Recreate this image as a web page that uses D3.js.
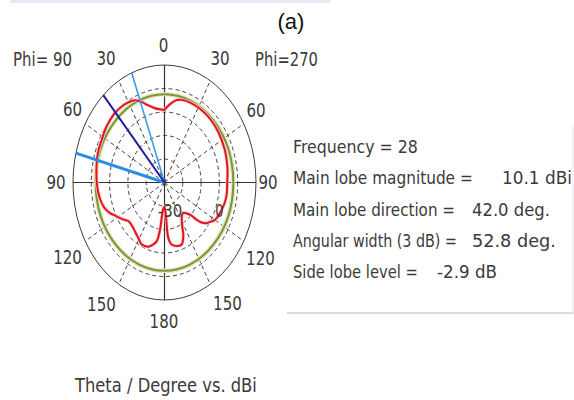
<!DOCTYPE html>
<html><head><meta charset="utf-8">
<script src="https://cdn.jsdelivr.net/npm/d3@7"></script>
<style>html,body{margin:0;padding:0;background:#fff;} svg{display:block}</style>
</head><body>
<svg id="chart" width="574" height="400"></svg>
<script>
// ---------------- data ----------------
const angleTicks = [0, 30, 60, 90, 120, 150, 180];
const gridLevelsDb = [-20, -10, 0, 10];
const radialDomainDb = [-30, 20];
const radialTickLabels = [-30, 0];
const halfPowerDb = 7.6;            // green ring (3 dB below main lobe)
const mainLobeDir = 42.0;           // dark blue line (Phi = 90 side)
const beamEdges = [21, 75.5];       // light blue lines (Phi = 90 side)

// Phi = 90 half (left)
const phi90Theta = [0, 5, 10, 16, 20, 25, 30, 35, 42, 48, 55, 62, 69, 75, 84, 90, 96, 102, 108, 113.6, 118, 122, 126, 129.6, 134, 138.6, 143, 148.8, 154.8, 162, 166, 170.3, 173, 174.5, 177, 180];
const phi90Gain  = [0.9, 1.3, 2.2, 4.4, 6.5, 8.6, 9.4, 9.9, 10.1, 9.9, 9.5, 8.8, 8.6, 8.2, 7.4, 7.0, 6.5, 5.8, 4.6, 2.5, 0.2, -1.4, -3.0, -4.3, -4.5, -4.2, -3.5, -2.4, -0.8, -1.3, -2.6, -4.6, -9.6, -16, -19, -19.5];
// Phi = 270 half (right)
const phi270Theta = [0, 5, 10, 15, 22, 32, 43, 54, 67, 79, 90, 101, 111, 120, 124, 127, 130, 132, 134, 137, 141.7, 146, 150, 153, 155.2, 160.4, 166, 171.5, 174, 175.5, 176.5, 178, 180];
const phi270Gain  = [0.9, 3.4, 5.5, 6.4, 6.8, 6.9, 6.8, 6.4, 5.8, 5.0, 4.3, 4.3, 3.3, 1.8, 0.0, -1.2, -3.5, -6.3, -10, -12, -13.5, -13, -11.1, -8.5, -5.5, -2.0, -2.1, -3.3, -5.0, -7.5, -14, -18, -19.5];

const infoNames  = ["Frequency = 28", "Main lobe magnitude =", "Main lobe direction =", "Angular width (3 dB) =", "Side lobe level ="];
const infoValues = ["", "10.1 dBi", "42.0 deg.", "52.8 deg.", "-2.9 dB"];
const titleText = "(a)";
const axisTitle = "Theta / Degree vs. dBi";
const phiLabels = ["Phi= 90", "Phi=270"];

// ---------------- layout ----------------
const svg = d3.select("#chart");
const cx = 164.5, cy = 182.5, rx = 91.5, ry = 117.5;
const FONT = "DejaVu Sans, Verdana, sans-serif";
const TXT = "#3a3a3a";

const rScale = d3.scaleLinear().domain(radialDomainDb).range([0, 1]);
const xS = d3.scaleLinear().domain([-1, 1]).range([cx - rx, cx + rx]);
const yS = d3.scaleLinear().domain([-1, 1]).range([cy + ry, cy - ry]);
const rad = d => d * Math.PI / 180;
const pt = (side, th, rn) => [xS(side * rn * Math.sin(rad(th))), yS(rn * Math.cos(rad(th)))];

// text placed at (x, baseline y) and squeezed horizontally to a target width
function fitText(parent, str, x, y, width, size, anchor) {
  const t = parent.append("text").attr("font-family", FONT).attr("font-size", size)
    .attr("fill", TXT).attr("text-anchor", anchor || "start").text(str);
  const w = t.node().getComputedTextLength();
  const k = w > 0 ? width / w : 1;
  t.attr("transform", `translate(${x},${y}) scale(${k},1)`);
  return t;
}

// top band
svg.append("rect").attr("x", 10).attr("y", 0).attr("width", 320).attr("height", 3).attr("fill", "#e6e9f4");

// title
svg.append("text").attr("x", 291).attr("y", 29).attr("text-anchor", "middle")
  .attr("font-family", "Liberation Sans, Arial, sans-serif").attr("font-size", 22).attr("fill", "#111").text(titleText);

// info panel edges
svg.append("line").attr("x1", 287).attr("x2", 574).attr("y1", 313).attr("y2", 313).attr("stroke", "#d6dbe4").attr("stroke-width", 2);
svg.append("line").attr("x1", 573).attr("x2", 573).attr("y1", 125).attr("y2", 313).attr("stroke", "#eceff5").attr("stroke-width", 1.5);

const g = svg.append("g");

// outer ellipse
g.append("ellipse").attr("cx", xS(0)).attr("cy", yS(0))
  .attr("rx", xS(1) - xS(0)).attr("ry", yS(0) - yS(1))
  .attr("fill", "none").attr("stroke", "#3c3c3c").attr("stroke-width", 1);

// dashed rings
g.selectAll("ellipse.grid").data(gridLevelsDb).join("ellipse").attr("class", "grid")
  .attr("cx", xS(0)).attr("cy", yS(0))
  .attr("rx", d => xS(rScale(d)) - xS(0)).attr("ry", d => yS(0) - yS(rScale(d)))
  .attr("fill", "none").attr("stroke", "#444").attr("stroke-width", 1).attr("stroke-dasharray", "4,3");

// dashed spokes
const spokes = [];
[30, 60, 120, 150].forEach(a => { spokes.push({ s: -1, a }); spokes.push({ s: 1, a }); });
g.selectAll("line.spoke").data(spokes).join("line").attr("class", "spoke")
  .attr("x1", xS(0)).attr("y1", yS(0))
  .attr("x2", d => pt(d.s, d.a, 1)[0]).attr("y2", d => pt(d.s, d.a, 1)[1])
  .attr("stroke", "#444").attr("stroke-width", 1).attr("stroke-dasharray", "4,3");

// axes
g.append("line").attr("x1", xS(0)).attr("x2", xS(0)).attr("y1", yS(1)).attr("y2", yS(-1)).attr("stroke", "#333").attr("stroke-width", 1.2);
g.append("line").attr("x1", xS(-1)).attr("x2", xS(1)).attr("y1", yS(0)).attr("y2", yS(0)).attr("stroke", "#333").attr("stroke-width", 1.2);

// green half-power ring
const hp = rScale(halfPowerDb);
g.append("ellipse").attr("cx", xS(0)).attr("cy", yS(0))
  .attr("rx", xS(hp) - xS(0)).attr("ry", yS(0) - yS(hp))
  .attr("fill", "none").attr("stroke", "#dfe8b4").attr("stroke-width", 4.5);
g.append("ellipse").attr("cx", xS(0)).attr("cy", yS(0))
  .attr("rx", xS(hp) - xS(0)).attr("ry", yS(0) - yS(hp))
  .attr("fill", "none").attr("stroke", "#7a9440").attr("stroke-width", 2);

// red pattern
const pts = [];
phi90Theta.forEach((t, i) => pts.push(pt(-1, t, rScale(phi90Gain[i]))));
for (let i = phi270Theta.length - 1; i >= 0; i--) pts.push(pt(1, phi270Theta[i], rScale(phi270Gain[i])));
const redPath = d3.line().curve(d3.curveCatmullRomClosed.alpha(0.5))(pts);
g.append("path").attr("d", redPath).attr("fill", "none").attr("stroke", "#fbd0d0").attr("stroke-width", 3.5);
g.append("path").attr("d", redPath).attr("fill", "none").attr("stroke", "#e3141c").attr("stroke-width", 2);

// direction lines
g.append("line").attr("x1", xS(0)).attr("y1", yS(0))
  .attr("x2", pt(-1, beamEdges[0], 1)[0]).attr("y2", pt(-1, beamEdges[0], 1)[1])
  .attr("stroke", "#3d9be6").attr("stroke-width", 1.6);
g.append("line").attr("x1", xS(0)).attr("y1", yS(0))
  .attr("x2", pt(-1, beamEdges[1], 1)[0]).attr("y2", pt(-1, beamEdges[1], 1)[1])
  .attr("stroke", "#2a8ee6").attr("stroke-width", 3);
g.append("line").attr("x1", xS(0)).attr("y1", yS(0))
  .attr("x2", pt(-1, mainLobeDir, 1)[0]).attr("y2", pt(-1, mainLobeDir, 1)[1])
  .attr("stroke", "#1f1f9e").attr("stroke-width", 2);

// angle labels
const nudge = {
  "-1_30": [-3.6, -2.4], "1_30": [0.6, -2.4],
  "-1_60": [3.1, -3.5], "1_60": [-3.6, -2],
  "-1_90": [1.3, -0.5], "1_90": [-6.3, -0.5],
  "-1_120": [-1.9, 4], "1_120": [0.9, 5],
  "-1_150": [-8.1, -0.6], "1_150": [8.1, -1.6],
  "1_0": [-1, 3.5], "1_180": [-0.5, -2.5]
};
angleTicks.forEach(a => {
  const sides = (a === 0 || a === 180) ? [1] : [-1, 1];
  sides.forEach(s => {
    const p = pt(s, a, 1.2), n = nudge[s + "_" + a];
    fitText(g, String(a), p[0] + n[0], p[1] + n[1] + 7, String(a).length * 9.6, 20, "middle");
  });
});

// radial labels
radialTickLabels.forEach(d => {
  fitText(g, String(d), xS(rScale(d)) + (d === -30 ? 5.5 : 0), yS(0) + 34, String(d).length * 8.2, 18, "middle");
});

// phi labels
fitText(svg, phiLabels[0], 13, 66, 59, 19);
fitText(svg, phiLabels[1], 255, 66, 63, 19);

// info text
const infoBase = [153, 184.3, 215.5, 246.5, 277.5];
const nameW = [125, 180, 162, 164, 125];
const valX = [0, 502, 472, 472, 437];
const valW = [0, 70, 78, 84, 60];
infoNames.forEach((t, i) => {
  fitText(svg, t, 293, infoBase[i], nameW[i], 17.5);
  if (infoValues[i]) fitText(svg, infoValues[i], valX[i], infoBase[i], valW[i], 17.5);
});

// axis title
fitText(svg, axisTitle, 75, 392, 182, 19);
</script>
</body></html>
